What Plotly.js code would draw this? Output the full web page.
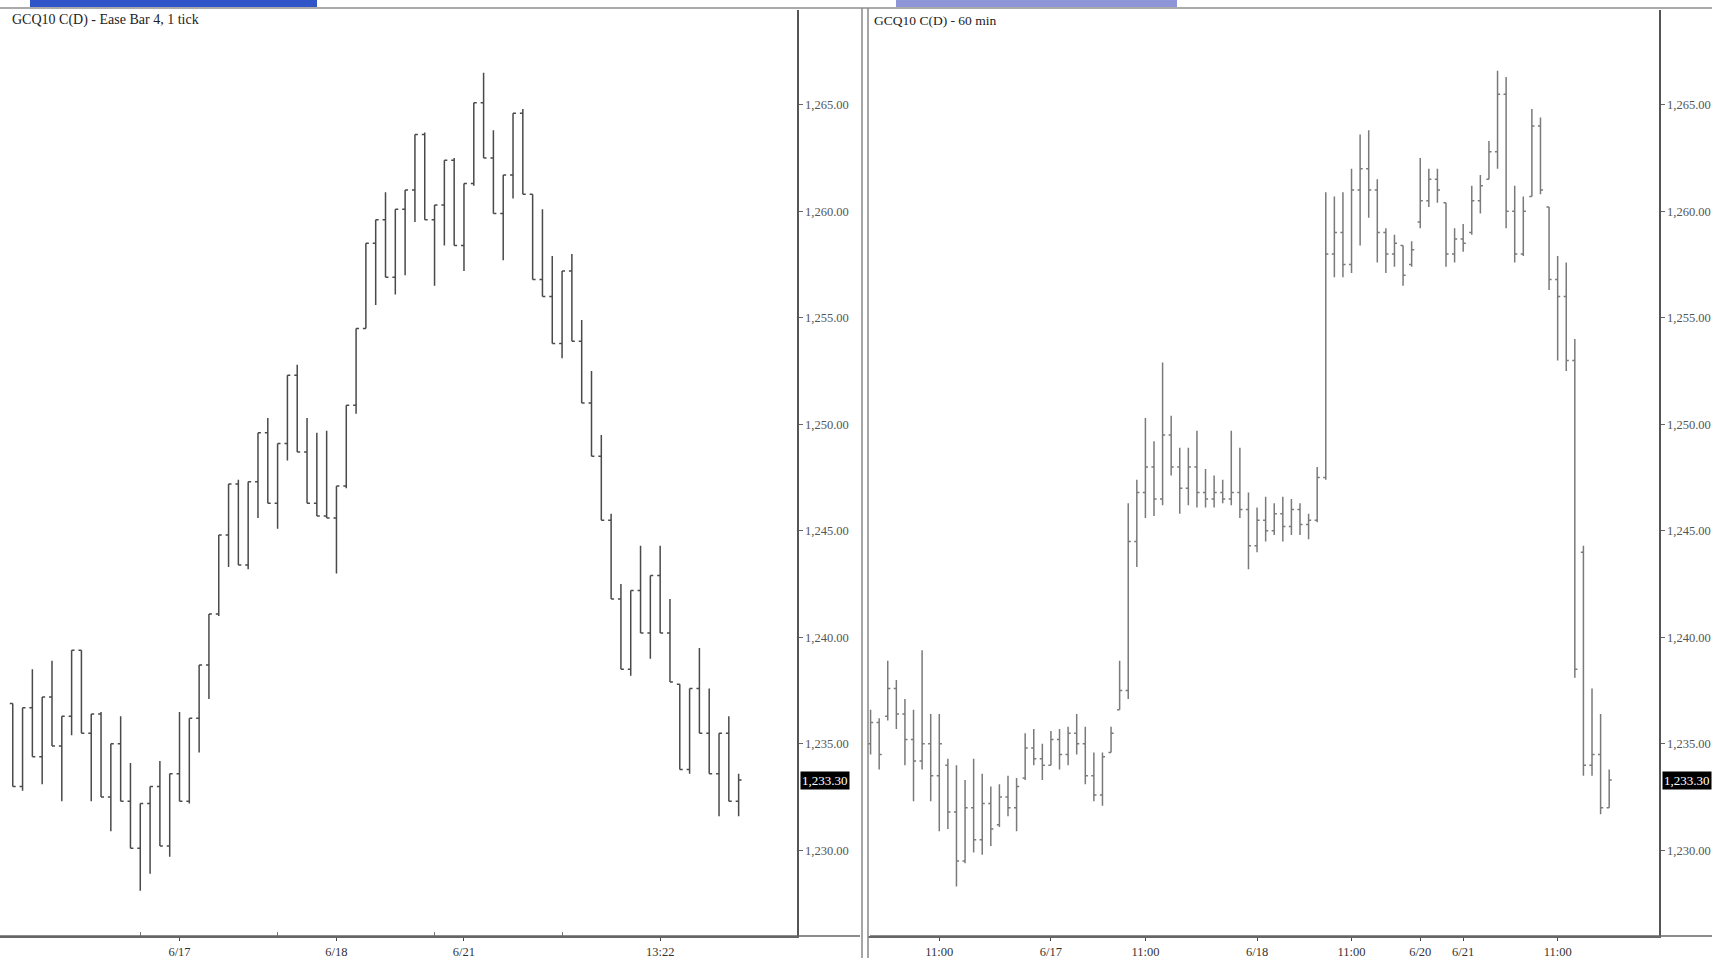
<!DOCTYPE html>
<html>
<head>
<meta charset="utf-8">
<script src="https://cdn.plot.ly/plotly-3.0.1.min.js"></script>
<style>
html,body{margin:0;padding:0;background:#fff;}
#chart{width:1712px;height:958px;}
</style>
</head>
<body>
<div id="chart"></div>
<script>
// ---------- Left panel: GCQ10 C(D) - Ease Bar 4, 1 tick ----------
const leftIdx = Array.from({length: 75}, (_, i) => i + 1);
const leftHigh = [1236.9,1236.7,1238.5,1237.2,1238.9,1236.3,1239.4,1239.4,1236.4,1236.5,
  1235.0,1236.3,1234.1,1232.2,1233.0,1234.2,1233.6,1236.5,1236.2,1238.7,
  1241.1,1244.8,1247.2,1247.4,1247.3,1249.6,1250.3,1249.1,1252.3,1252.8,
  1250.3,1249.6,1249.7,1247.1,1250.9,1254.5,1258.5,1259.6,1260.9,1260.1,
  1261.0,1263.6,1263.7,1260.3,1262.4,1262.5,1261.3,1265.1,1266.5,1263.8,
  1261.7,1264.6,1264.8,1260.8,1260.1,1257.9,1257.2,1258.0,1254.9,1252.5,
  1249.5,1245.8,1242.5,1242.2,1244.3,1242.9,1244.3,1241.8,1237.8,1237.6,
  1239.5,1237.6,1235.5,1236.3,1233.6];
const leftLow = [1233.0,1232.8,1234.4,1233.1,1234.9,1232.3,1235.4,1235.5,1232.3,1232.5,
  1230.9,1232.3,1230.1,1228.1,1228.9,1230.2,1229.7,1232.3,1232.2,1234.6,
  1237.1,1241.0,1243.3,1243.4,1243.2,1245.6,1246.3,1245.1,1248.3,1248.7,
  1246.3,1245.7,1245.6,1243.0,1247.0,1250.5,1254.5,1255.6,1256.9,1256.1,
  1257.0,1259.5,1259.6,1256.5,1258.4,1258.4,1257.2,1261.2,1262.5,1259.9,
  1257.7,1260.6,1260.8,1256.8,1256.0,1253.8,1253.1,1253.9,1251.0,1248.5,
  1245.5,1241.8,1238.5,1238.2,1240.2,1239.0,1240.2,1237.9,1233.8,1233.6,
  1235.5,1233.6,1231.6,1232.3,1231.6];
const leftOpen = [1236.9,1233.0,1236.7,1234.4,1237.2,1234.9,1236.3,1239.4,1235.5,1236.4,
  1232.5,1235.0,1232.3,1230.1,1232.2,1233.0,1230.2,1233.6,1232.3,1236.2,
  1238.7,1241.1,1244.8,1247.2,1243.4,1247.3,1249.6,1246.3,1249.1,1252.3,
  1248.7,1246.3,1245.7,1245.6,1247.1,1250.9,1254.5,1258.5,1259.6,1256.9,
  1260.1,1261.0,1263.6,1259.6,1260.3,1262.4,1258.4,1261.3,1265.1,1262.5,
  1259.9,1261.7,1264.6,1260.8,1256.8,1256.0,1253.8,1257.2,1253.9,1251.0,
  1248.5,1245.5,1241.8,1238.5,1242.2,1240.2,1242.9,1240.2,1237.8,1233.8,
  1237.6,1235.5,1233.6,1235.5,1232.3];
const leftClose = [1233.0,1236.7,1234.4,1237.2,1234.9,1236.3,1239.4,1235.5,1236.4,1232.5,
  1235.0,1232.3,1230.1,1232.2,1233.0,1230.2,1233.6,1232.3,1236.2,1238.7,
  1241.1,1244.8,1247.2,1243.4,1247.3,1249.6,1246.3,1249.1,1252.3,1248.7,
  1246.3,1245.7,1245.6,1247.1,1250.9,1254.5,1258.5,1259.6,1256.9,1260.1,
  1261.0,1263.6,1259.6,1260.3,1262.4,1258.4,1261.3,1265.1,1262.5,1259.9,
  1261.7,1264.6,1260.8,1256.8,1256.0,1253.8,1257.2,1253.9,1251.0,1248.5,
  1245.5,1241.8,1238.5,1242.2,1240.2,1242.9,1240.2,1237.9,1233.8,1237.6,
  1235.5,1233.6,1235.5,1232.3,1233.3];
const leftTickVals = [18, 34, 47, 67];
const leftTickText = ['6/17', '6/18', '6/21', '13:22'];
const leftMinorVals = [14, 28, 44, 57];

// ---------- Right panel: GCQ10 C(D) - 60 min ----------
const rightIdx = Array.from({length: 87}, (_, i) => i);
const rightHigh = [1236.6,1236.2,1238.9,1238.0,1237.1,1236.6,1239.4,1236.4,1236.4,1234.3,
  1234.0,1233.3,1234.3,1233.6,1233.0,1233.1,1233.5,1233.4,1235.5,1235.7,
  1235.0,1235.6,1235.7,1235.8,1236.4,1235.8,1234.6,1234.6,1235.8,1238.9,
  1246.3,1247.4,1250.3,1249.2,1252.9,1250.4,1248.9,1248.9,1249.7,1247.9,
  1247.6,1247.4,1249.7,1248.9,1246.8,1246.1,1246.6,1246.3,1246.6,1246.5,
  1246.3,1245.8,1248.0,1260.9,1260.7,1260.9,1262.0,1263.6,1263.8,1261.5,
  1259.2,1258.9,1258.4,1258.6,1262.5,1262.0,1262.0,1260.4,1259.2,1259.4,
  1261.2,1261.7,1263.3,1266.6,1266.3,1261.2,1260.7,1264.8,1264.4,1260.2,
  1257.9,1257.6,1254.0,1244.3,1237.6,1236.4,1233.8];
const rightLow = [1234.5,1233.8,1236.1,1235.7,1234.0,1232.3,1233.8,1232.3,1230.9,1231.0,
  1228.3,1229.4,1229.9,1229.8,1230.2,1231.1,1231.6,1230.9,1233.3,1234.0,
  1233.3,1234.0,1233.8,1234.0,1234.5,1233.1,1232.3,1232.1,1234.6,1236.6,
  1237.1,1243.3,1245.6,1245.7,1246.2,1247.6,1245.8,1246.2,1246.1,1246.1,
  1246.1,1246.3,1246.2,1245.6,1243.2,1244.0,1244.5,1244.8,1244.5,1244.8,
  1244.8,1244.6,1245.4,1247.4,1256.9,1256.9,1257.1,1258.4,1259.7,1257.6,
  1257.1,1257.4,1256.5,1257.4,1259.2,1260.2,1260.4,1257.4,1257.6,1258.1,
  1258.9,1259.9,1261.5,1262.0,1259.2,1257.6,1257.9,1260.7,1260.8,1256.3,
  1253.0,1252.5,1238.1,1233.5,1233.5,1231.7,1232.0];
const rightOpen = [1235.0,1236.0,1236.3,1237.6,1236.4,1235.2,1234.2,1235.0,1233.5,1234.0,
  1231.8,1229.5,1232.0,1230.5,1232.2,1231.2,1232.5,1232.0,1233.4,1234.8,
  1234.3,1234.0,1235.2,1234.5,1235.5,1235.0,1233.5,1232.6,1234.6,1236.6,
  1237.5,1244.5,1246.8,1248.0,1246.5,1249.5,1248.0,1247.0,1248.0,1246.8,
  1246.5,1246.8,1246.5,1246.8,1246.0,1244.3,1245.5,1245.0,1245.8,1245.2,
  1246.0,1245.3,1245.5,1247.5,1258.0,1259.0,1257.5,1261.0,1262.0,1261.0,
  1259.0,1258.0,1258.4,1257.5,1259.5,1260.5,1261.5,1260.4,1258.0,1258.7,
  1259.0,1260.5,1261.5,1262.8,1265.5,1260.0,1258.0,1260.7,1264.0,1260.2,
  1256.8,1256.0,1253.0,1244.0,1234.0,1234.5,1232.0];
const rightClose = [1236.0,1234.5,1237.6,1236.4,1235.2,1234.2,1235.0,1233.5,1235.0,1231.8,
  1229.5,1232.0,1230.5,1232.2,1231.0,1232.5,1232.0,1233.0,1234.8,1234.3,
  1234.0,1235.2,1234.5,1235.5,1235.0,1233.5,1232.6,1234.4,1235.5,1237.5,
  1244.5,1246.8,1248.0,1246.5,1249.5,1248.0,1247.0,1248.0,1246.8,1246.5,
  1246.8,1246.5,1246.8,1246.0,1244.3,1245.5,1245.0,1245.8,1245.2,1246.0,
  1245.3,1245.5,1247.5,1258.0,1259.0,1257.5,1261.0,1262.0,1261.0,1259.0,
  1258.0,1258.5,1257.0,1258.2,1260.5,1261.5,1261.0,1258.0,1258.7,1258.5,
  1260.5,1261.2,1262.8,1265.5,1260.0,1258.0,1260.0,1264.0,1261.0,1256.8,
  1256.0,1253.0,1238.5,1234.0,1234.5,1232.0,1233.3];
const rightTickVals = [8, 21, 32, 45, 56, 64, 69, 80];
const rightTickText = ['11:00', '6/17', '11:00', '6/18', '11:00', '6/20', '6/21', '11:00'];

const priceTicks = [1230, 1235, 1240, 1245, 1250, 1255, 1260, 1265];
const lastPrice = 1233.3;
const leftTitle = 'GCQ10 C(D) - Ease Bar 4, 1 tick';
const rightTitle = 'GCQ10 C(D) - 60 min';

// ---------- styling ----------
const W = 1712, H = 958;
const FONT = 'Liberation Serif, Times New Roman, serif';
const yDom = [(H - 936) / H, (H - 10) / H];
const leftDom = [0, 797 / W];
const rightDom = [868 / W, 1659 / W];

function ohlc(x, o, h, l, c, xa, ya, col) {
  return {
    type: 'ohlc', x: x, open: o, high: h, low: l, close: c,
    xaxis: xa, yaxis: ya, tickwidth: 0.3, hoverinfo: 'skip',
    increasing: {line: {color: col, width: 1.5}},
    decreasing: {line: {color: col, width: 1.5}},
    showlegend: false
  };
}

const data = [
  ohlc(leftIdx, leftOpen, leftHigh, leftLow, leftClose, 'x', 'y', '#4a4a4a'),
  ohlc(rightIdx, rightOpen, rightHigh, rightLow, rightClose, 'x2', 'y2', '#7a7a7a')
];

const yRange = [1225.98, 1269.45];
function yAxis(anchor) {
  return {
    domain: yDom, anchor: anchor, side: 'right', range: yRange,
    tickmode: 'array', tickvals: priceTicks, tickformat: ',.2f',
    ticks: 'outside', ticklen: 4, tickcolor: '#666', tickwidth: 1,
    showline: true, linecolor: '#555', linewidth: 1.5, mirror: false,
    showgrid: false, zeroline: false, fixedrange: true,
    tickfont: {family: FONT, size: 12.5, color: '#555'}
  };
}
function xAxis(anchor, dom, range, tv, tt, minor) {
  const ax = {
    domain: dom, anchor: anchor, range: range,
    tickmode: 'array', tickvals: tv, ticktext: tt,
    ticks: 'outside', ticklen: 3, tickcolor: '#444', tickwidth: 1,
    showline: true, linecolor: '#666', linewidth: 1.5,
    showgrid: false, zeroline: false, fixedrange: true,
    rangeslider: {visible: false},
    tickfont: {family: FONT, size: 12.5, color: '#333'}
  };
  if (minor) {
    ax.minor = {tickmode: 'array', tickvals: minor, ticks: 'inside', ticklen: 4, tickcolor: '#777', showgrid: false};
  }
  return ax;
}

const layout = {
  width: W, height: H,
  margin: {l: 0, r: 0, t: 0, b: 0},
  paper_bgcolor: '#ffffff', plot_bgcolor: '#ffffff',
  showlegend: false,
  xaxis: xAxis('y', leftDom, [-0.3, 80.95], leftTickVals, leftTickText, leftMinorVals),
  yaxis: yAxis('x'),
  xaxis2: xAxis('y2', rightDom, [-0.3, 91.8], rightTickVals, rightTickText, null),
  yaxis2: yAxis('x2'),
  shapes: [
    {type: 'line', xref: 'paper', yref: 'paper', x0: 0, x1: 1, y0: (H - 8) / H, y1: (H - 8) / H, line: {color: '#aaa', width: 2}},
    {type: 'rect', xref: 'paper', yref: 'paper', x0: 30 / W, x1: 317 / W, y0: (H - 7) / H, y1: 1, fillcolor: '#2f55c8', line: {width: 0}},
    {type: 'rect', xref: 'paper', yref: 'paper', x0: 896 / W, x1: 1177 / W, y0: (H - 7) / H, y1: 1, fillcolor: '#8f96d8', line: {width: 0}},
    {type: 'line', xref: 'paper', yref: 'paper', x0: 862 / W, x1: 862 / W, y0: 0, y1: (H - 8) / H, line: {color: '#888', width: 1.5}},
    {type: 'line', xref: 'paper', yref: 'paper', x0: 868 / W, x1: 868 / W, y0: 0, y1: (H - 8) / H, line: {color: '#888', width: 1.5}},
    {type: 'line', xref: 'paper', yref: 'paper', x0: 0, x1: 860 / W, y0: yDom[0], y1: yDom[0], line: {color: '#666', width: 1.5}},
    {type: 'line', xref: 'paper', yref: 'paper', x0: 870 / W, x1: 1, y0: yDom[0], y1: yDom[0], line: {color: '#666', width: 1.5}}
  ],
  annotations: [
    {xref: 'paper', yref: 'paper', x: 10 / W, y: (H - 20) / H, xanchor: 'left', yanchor: 'middle', showarrow: false,
      text: leftTitle, font: {family: FONT, size: 14, color: '#222'}},
    {xref: 'paper', yref: 'paper', x: 872 / W, y: (H - 20) / H, xanchor: 'left', yanchor: 'middle', showarrow: false,
      text: rightTitle, font: {family: FONT, size: 13.5, color: '#222'}},
    {xref: 'x domain', yref: 'y', x: 1, y: lastPrice, xanchor: 'left', yanchor: 'middle', xshift: 3, showarrow: false,
      text: '1,233.30', bgcolor: '#000', borderpad: 1, font: {family: FONT, size: 13, color: '#fff'}},
    {xref: 'x2 domain', yref: 'y2', x: 1, y: lastPrice, xanchor: 'left', yanchor: 'middle', xshift: 3, showarrow: false,
      text: '1,233.30', bgcolor: '#000', borderpad: 1, font: {family: FONT, size: 13, color: '#fff'}}
  ]
};

Plotly.newPlot('chart', data, layout, {staticPlot: true, displayModeBar: false});
</script>
</body>
</html>
